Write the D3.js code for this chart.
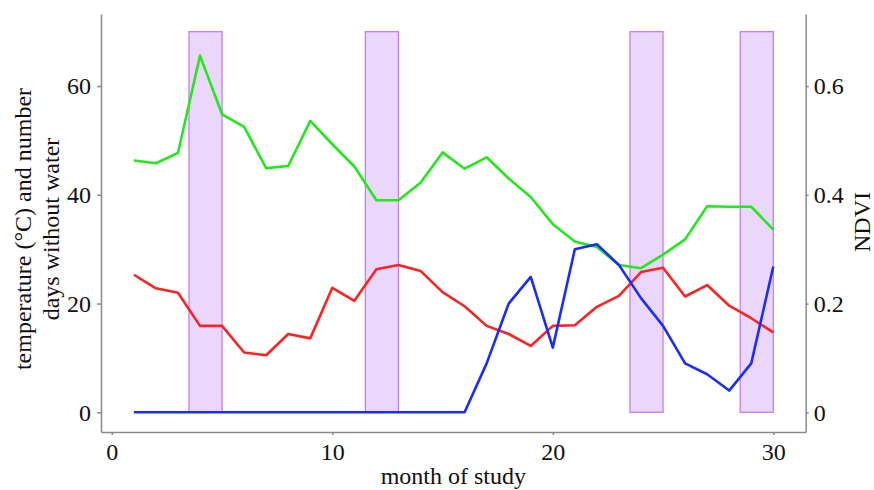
<!DOCTYPE html>
<html>
<head>
<meta charset="utf-8">
<script src="https://cdn.jsdelivr.net/npm/d3@7"></script>
<style>
  body { margin: 0; background: #fff; }
  text { font-family: "Liberation Serif", "DejaVu Serif", serif; }
</style>
</head>
<body>
<svg id="chart" width="874" height="490"></svg>
<script>

// ##################################################
// #  Data                                          #
// ##################################################

const months = d3.range(1, 31);

// temperature (red), left axis
const temperature = [25.3, 22.8, 22.0, 15.9, 15.9, 11.0, 10.5, 14.4, 13.6, 22.9,
                     20.5, 26.3, 27.1, 26.0, 22.1, 19.5, 15.9, 14.4, 12.2, 15.9,
                     16.0, 19.4, 21.4, 25.8, 26.6, 21.3, 23.4, 19.6, 17.3, 14.7];

// days without water (blue), left axis
const dryDays = [0, 0, 0, 0, 0, 0, 0, 0, 0, 0,
                 0, 0, 0, 0, 0, 0, 9.0, 20.0, 24.9, 11.9,
                 30.0, 30.9, 27.1, 21.0, 15.9, 9.0, 7.0, 4.0, 9.0, 26.8];

// NDVI (green), right axis
const ndvi = [0.463, 0.458, 0.477, 0.656, 0.548, 0.525, 0.449, 0.453, 0.536, 0.493,
              0.452, 0.390, 0.390, 0.422, 0.478, 0.448, 0.469, 0.430, 0.396, 0.346,
              0.314, 0.304, 0.271, 0.265, 0.290, 0.318, 0.379, 0.378, 0.378, 0.336];

// shaded periods [start, end] in months
const periods = [[3.5, 5], [11.5, 13], [23.5, 25], [28.5, 30]];
const periodTop = 70;

const xTicks = [0, 10, 20, 30];
const yTicks = [0, 20, 40, 60];
const ndviTicks = [0, 0.2, 0.4, 0.6];

// ##################################################
// #  Chart                                         #
// ##################################################

const svg = d3.select('#chart');

const plotLeft = 101, plotRight = 805.7, plotTop = 14, plotBottom = 432;

const x = d3.scaleLinear().domain([-0.49, 31.47]).range([plotLeft, plotRight]);
const y = d3.scaleLinear().domain([-3.62, 73.25]).range([plotBottom, plotTop]);
const y2 = d3.scaleLinear().domain([-0.0362, 0.7325]).range([plotBottom, plotTop]);

// shaded periods
svg.append('g')
    .selectAll('rect')
    .data(periods)
    .join('rect')
    .attr('x', d => x(d[0]))
    .attr('y', y(periodTop))
    .attr('width', d => x(d[1]) - x(d[0]))
    .attr('height', y(0) - y(periodTop))
    .attr('fill', '#ecd7fc')
    .attr('stroke', '#c47ef4')
    .attr('stroke-width', 1.3);

// lines
const series = [
    {values: ndvi, scale: y2, color: '#22e81c'},
    {values: temperature, scale: y, color: '#ff2222'},
    {values: dryDays, scale: y, color: '#1a2dff'}
];

svg.append('g')
    .selectAll('path')
    .data(series)
    .join('path')
    .attr('fill', 'none')
    .attr('stroke', d => d.color)
    .attr('stroke-width', 2.6)
    .attr('stroke-linejoin', 'round')
    .attr('d', s => d3.line()
        .x((v, i) => x(months[i]))
        .y(v => s.scale(v))(s.values));

// axes
function styleAxis(g) {
    g.selectAll('path, line').attr('stroke', '#8a8a8a').attr('stroke-width', 1.5);
    g.selectAll('text').attr('font-size', 24).attr('fill', '#111')
        .attr('font-family', '"Liberation Serif", serif');
}

svg.append('g')
    .attr('transform', `translate(0,${plotBottom})`)
    .call(d3.axisBottom(x).tickValues(xTicks).tickSize(3).tickSizeOuter(0).tickPadding(8))
    .call(styleAxis);

svg.append('g')
    .attr('transform', `translate(${plotLeft},0)`)
    .call(d3.axisLeft(y).tickValues(yTicks).tickSize(4).tickSizeOuter(0).tickPadding(6))
    .call(styleAxis);

svg.append('g')
    .attr('transform', `translate(${plotRight},0)`)
    .call(d3.axisRight(y2).tickValues(ndviTicks).tickFormat(d3.format('')).tickSize(3).tickSizeOuter(0).tickPadding(5))
    .call(styleAxis);

// axis titles
svg.append('text')
    .attr('x', (plotLeft + plotRight) / 2)
    .attr('y', 484)
    .attr('text-anchor', 'middle')
    .attr('font-size', 24)
    .attr('fill', '#111')
    .text('month of study');

const yTitle = svg.append('text')
    .attr('transform', `translate(31,229) rotate(-90)`)
    .attr('text-anchor', 'middle')
    .attr('font-size', 24)
    .attr('fill', '#111');
yTitle.append('tspan').attr('x', 0).attr('y', 0).text('temperature (°C) and number');
yTitle.append('tspan').attr('x', 0).attr('y', 28).text('days without water');

svg.append('text')
    .attr('transform', `translate(870,222) rotate(-90)`)
    .attr('text-anchor', 'middle')
    .attr('font-size', 24)
    .attr('fill', '#111')
    .text('NDVI');

</script>
</body>
</html>
